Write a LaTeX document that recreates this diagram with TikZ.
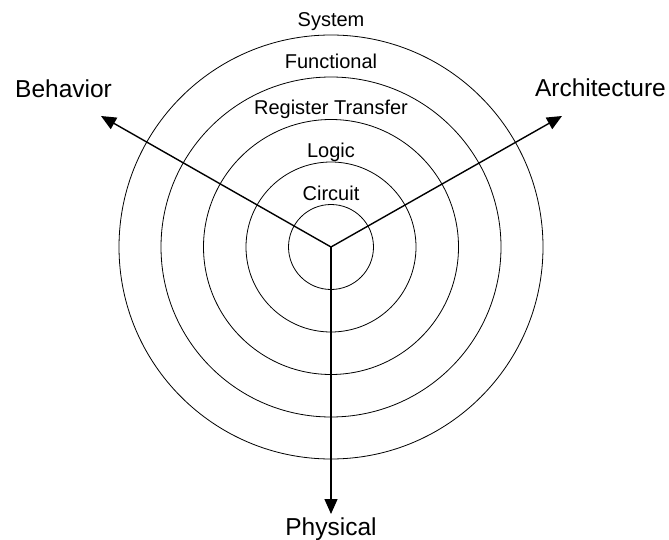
\documentclass[tikz,border=0pt]{standalone}
\usepackage{fontspec}
\setmainfont{Liberation Sans}
\usetikzlibrary{arrows.meta}
\begin{document}
\begin{tikzpicture}[x=1bp,y=-1bp,
  ring/.style={draw=black,line width=0.8bp},
  axis/.style={draw=black,line width=1.4bp,-{Triangle[length=15bp,width=13bp]}},
  lvl/.style={anchor=base,inner sep=0pt,font=\fontsize{20bp}{23bp}\selectfont},
  dom/.style={anchor=base,inner sep=0pt,font=\fontsize{24.5bp}{28bp}\selectfont}]
\useasboundingbox (0,0) rectangle (669,540);
\coordinate (c) at (331,247);
\foreach \r in {42.5,85,127.5,170,212}
  \draw[ring] (c) circle[radius=\r];
\coordinate (bt) at (101,116);
\coordinate (at) at (562,116);
\coordinate (pt) at (331,514);
\draw[axis] (c) -- (bt);
\draw[axis] (c) -- (at);
\draw[axis] (c) -- (pt);
\node[lvl] (sys) at (331,27) {System};
\node[lvl] (fun) at (331,69) {Functional};
\node[lvl] (rt) at (331,115) {Register Transfer};
\node[lvl] (log) at (331,158) {Logic};
\node[lvl] (cir) at (331,201) {Circuit};
\node[dom,anchor=base west] (beh) at (15,98) {Behavior};
\node[dom,anchor=base east] (arc) at (666,97) {Architecture};
\node[dom] (phy) at (331,535) {Physical};
\end{tikzpicture}
\end{document}
